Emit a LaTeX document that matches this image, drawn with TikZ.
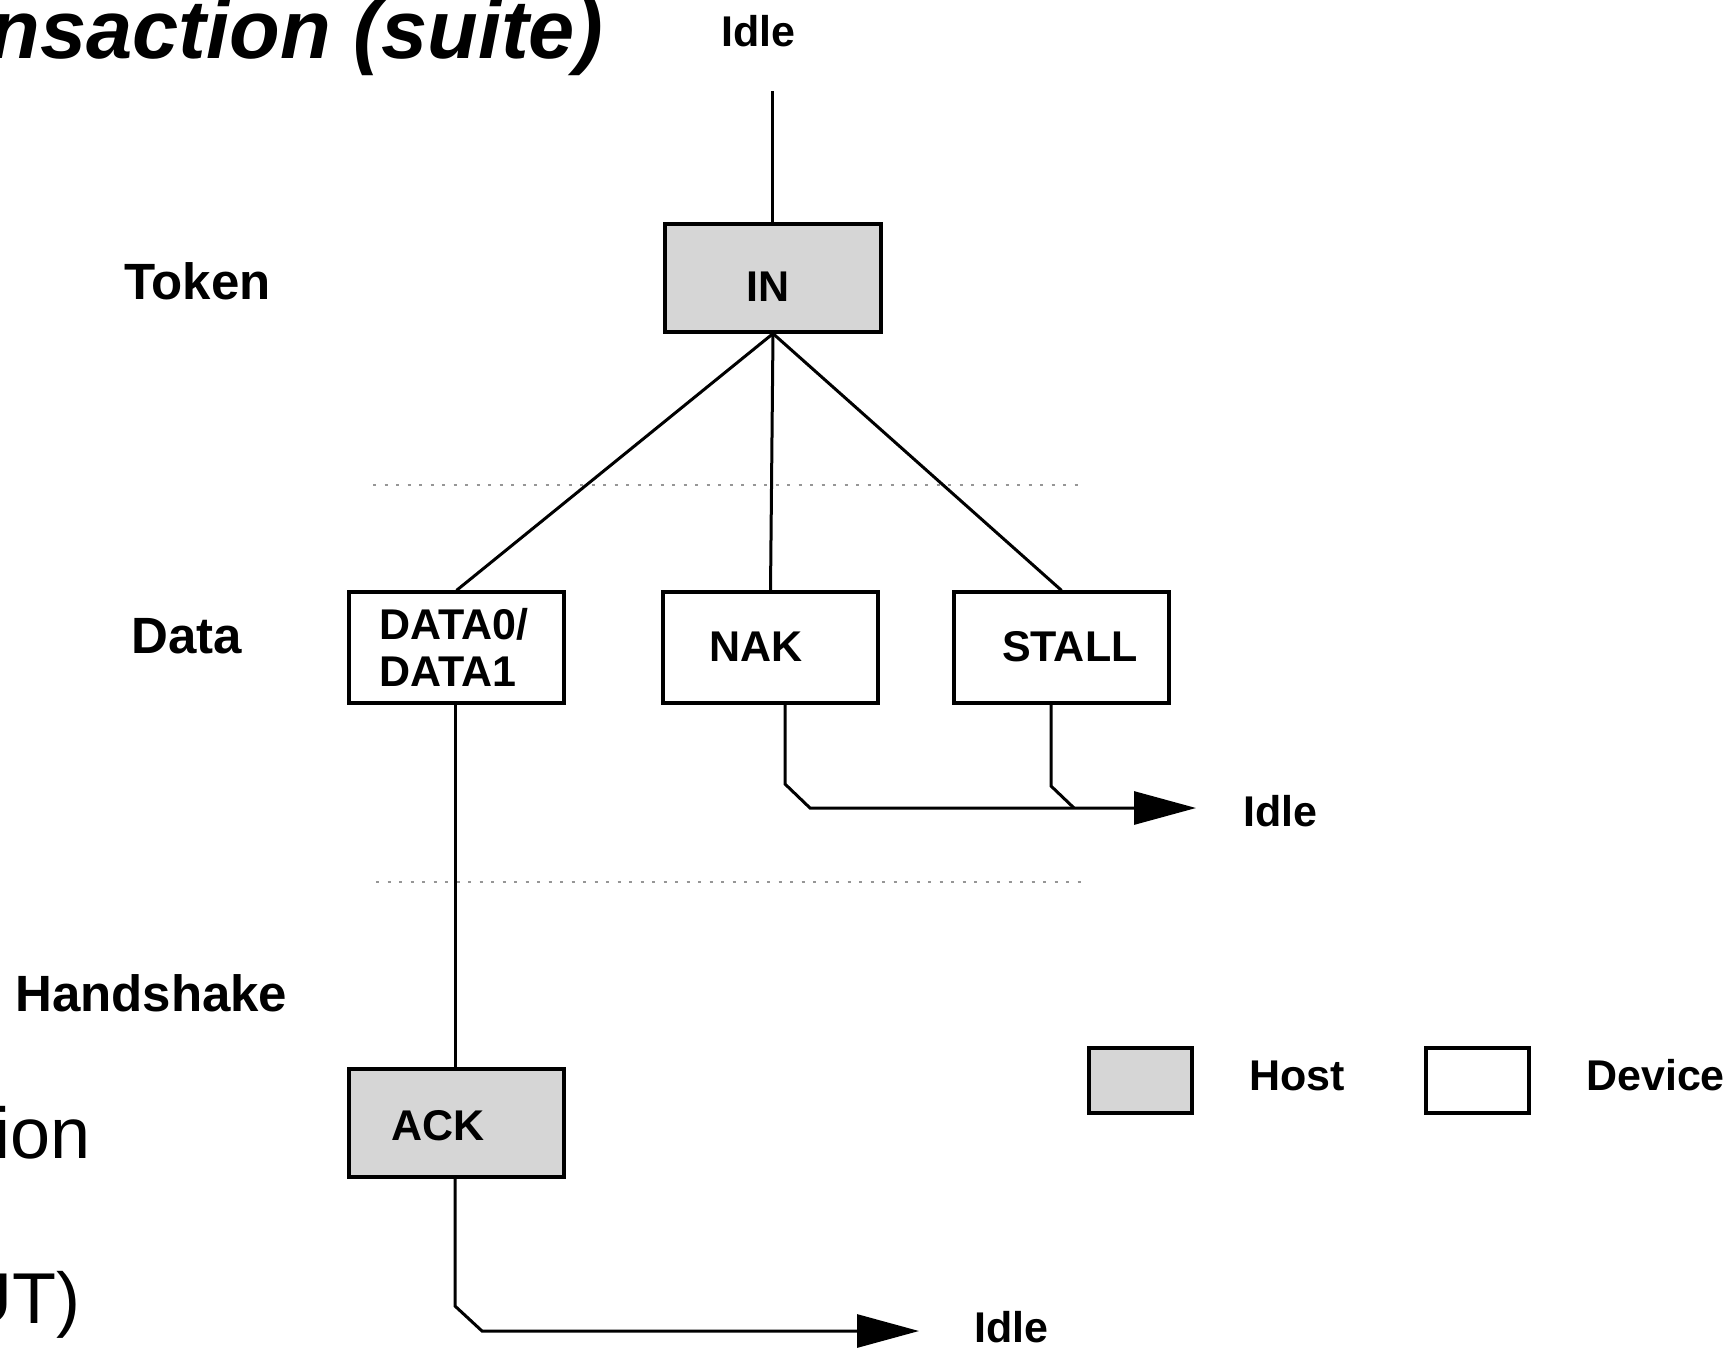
\documentclass[tikz,border=0pt]{standalone}
\usepackage{fontspec}
\setmainfont{Liberation Sans}
\usetikzlibrary{arrows.meta}
\definecolor{hostgray}{RGB}{214,214,214}
\definecolor{dotgray}{RGB}{150,150,150}

\begin{document}
\begin{tikzpicture}[x=1pt,y=-1pt,
  pbox/.style={draw=black,line width=3.2pt,minimum width=215pt,minimum height=110pt,inner sep=0pt},
  hostbox/.style={pbox,fill=hostgray},
  devbox/.style={pbox,fill=white},
  keybox/.style={draw=black,line width=3.2pt,minimum width=103pt,minimum height=65pt,inner sep=0pt},
  wire/.style={draw=black,line width=3pt},
  flow/.style={wire,-{Triangle[length=62pt,width=33pt]}},
  sepline/.style={draw=dotgray,line width=2pt,dash pattern=on 3pt off 8.5pt},
  rowlbl/.style={font=\fontsize{51}{60}\selectfont\bfseries,anchor=base west,inner sep=0pt},
  pkt/.style={font=\fontsize{43}{50}\selectfont\bfseries,anchor=base west,inner sep=0pt},
  bigtxt/.style={font=\fontsize{72}{86}\selectfont,inner sep=0pt},
]
\useasboundingbox (0,0) rectangle (1736,1349);

% slide text around the figure
\node[font=\fontsize{83}{100}\selectfont\bfseries\itshape,anchor=base east,inner sep=0pt] (title) at (603,58) {nsaction (suite)};
\node[bigtxt,anchor=base west] (frag1) at (-6,1158) {ion};
\node[bigtxt,anchor=base east] (frag2) at (81,1323) {UT)};

% phase labels
\node[rowlbl] (lToken) at (124,299) {Token};
\node[rowlbl] (lData) at (131,653) {Data};
\node[rowlbl] (lHand) at (15,1011) {Handshake};

% phase separators
\coordinate (s1a) at (373,485);
\coordinate (s1b) at (1085,485);
\coordinate (s2a) at (376,882);
\coordinate (s2b) at (1085,882);
\draw[sepline] (s1a) -- (s1b);
\draw[sepline] (s2a) -- (s2b);

% packets
\node[hostbox,minimum width=216pt,minimum height=108pt] (IN) at (773,278) {};
\node[devbox,minimum height=111pt] (DATA) at (456.5,647.5) {};
\node[devbox,minimum height=111pt] (NAK) at (770.5,647.5) {};
\node[devbox,minimum height=111pt] (STALL) at (1061.5,647.5) {};
\node[hostbox,minimum height=108pt] (ACK) at (456.5,1123) {};

\node[pkt] (tIN) at (746,301) {IN};
\node[pkt] (tD0) at (379,639) {DATA0/};
\node[pkt] (tD1) at (379,686) {DATA1};
\node[pkt] (tNAK) at (709,661) {NAK};
\node[pkt] (tSTALL) at (1002,661) {STALL};
\node[pkt] (tACK) at (391,1140) {ACK};

% idle states
\node[pkt] (idleTop) at (721,46) {Idle};
\node[pkt] (idleMid) at (1243,826) {Idle};
\node[pkt] (idleBot) at (974,1342) {Idle};

% connectors
\coordinate (startTop) at (772,91);
\draw[wire] (startTop) -- (startTop |- IN.north);
\draw[wire] (IN.south) -- (DATA.north);
\draw[wire] (IN.south) -- (NAK.north);
\draw[wire] (IN.south) -- (STALL.north);
\draw[wire] ([xshift=-1.5pt]DATA.south) -- ([xshift=-1.5pt]ACK.north);

\coordinate (nakBend) at (785,784);
\coordinate (nakFoot) at (810,808);
\coordinate (midEnd) at (1196,808);
\draw[flow] ([xshift=14.5pt]NAK.south) -- (nakBend) -- (nakFoot) -- (midEnd);

\coordinate (stallBend) at (1051,786);
\coordinate (stallFoot) at (1074,808);
\draw[wire] ([xshift=-10.5pt]STALL.south) -- (stallBend) -- (stallFoot);

\coordinate (ackBend) at (455,1306);
\coordinate (ackFoot) at (482,1331);
\coordinate (botEnd) at (919,1331);
\draw[flow] ([xshift=-1.5pt]ACK.south) -- (ackBend) -- (ackFoot) -- (botEnd);

% legend
\node[keybox,fill=hostgray] (keyHost) at (1140.5,1080.5) {};
\node[keybox,fill=white] (keyDev) at (1477.5,1080.5) {};
\node[pkt] (tHost) at (1249,1090) {Host};
\node[pkt] (tDev) at (1586,1090) {Device};
\end{tikzpicture}
\end{document}
